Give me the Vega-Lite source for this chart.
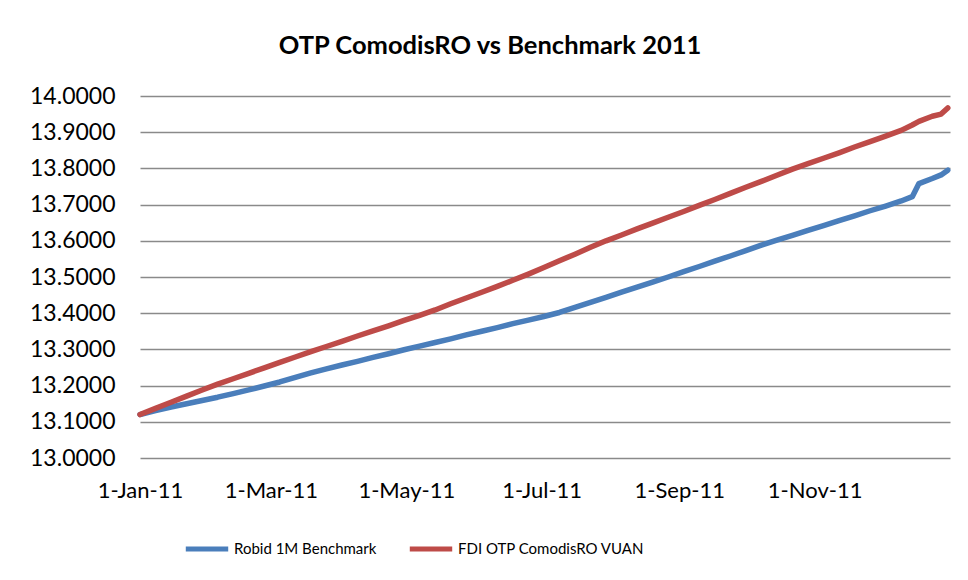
{
  "$schema": "https://vega.github.io/schema/vega-lite/v6.json",
  "width": 810,
  "height": 362,
  "autosize": "none",
  "padding": {"left": 140, "top": 96, "right": 18, "bottom": 122},
  "background": "white",
  "title": {
    "text": "OTP ComodisRO vs Benchmark 2011",
    "font": "Lato",
    "fontSize": 25.5,
    "fontWeight": "bold",
    "color": "#000000",
    "anchor": "middle",
    "frame": "bounds",
    "offset": 26
  },
  "data": {
    "values": [
      {"date": "2011-01-01T00:00:00", "Robid 1M Benchmark": 13.120, "FDI OTP ComodisRO VUAN": 13.120},
      {"date": "2011-01-08T00:00:00", "Robid 1M Benchmark": 13.131, "FDI OTP ComodisRO VUAN": 13.137},
      {"date": "2011-01-15T00:00:00", "Robid 1M Benchmark": 13.141, "FDI OTP ComodisRO VUAN": 13.154},
      {"date": "2011-01-22T00:00:00", "Robid 1M Benchmark": 13.150, "FDI OTP ComodisRO VUAN": 13.171},
      {"date": "2011-01-29T00:00:00", "Robid 1M Benchmark": 13.159, "FDI OTP ComodisRO VUAN": 13.188},
      {"date": "2011-02-05T00:00:00", "Robid 1M Benchmark": 13.168, "FDI OTP ComodisRO VUAN": 13.204},
      {"date": "2011-02-12T00:00:00", "Robid 1M Benchmark": 13.178, "FDI OTP ComodisRO VUAN": 13.219},
      {"date": "2011-02-19T00:00:00", "Robid 1M Benchmark": 13.188, "FDI OTP ComodisRO VUAN": 13.234},
      {"date": "2011-02-26T00:00:00", "Robid 1M Benchmark": 13.199, "FDI OTP ComodisRO VUAN": 13.249},
      {"date": "2011-03-05T00:00:00", "Robid 1M Benchmark": 13.210, "FDI OTP ComodisRO VUAN": 13.264},
      {"date": "2011-03-12T00:00:00", "Robid 1M Benchmark": 13.223, "FDI OTP ComodisRO VUAN": 13.279},
      {"date": "2011-03-19T00:00:00", "Robid 1M Benchmark": 13.235, "FDI OTP ComodisRO VUAN": 13.294},
      {"date": "2011-03-26T00:00:00", "Robid 1M Benchmark": 13.246, "FDI OTP ComodisRO VUAN": 13.308},
      {"date": "2011-04-02T00:00:00", "Robid 1M Benchmark": 13.257, "FDI OTP ComodisRO VUAN": 13.322},
      {"date": "2011-04-09T00:00:00", "Robid 1M Benchmark": 13.267, "FDI OTP ComodisRO VUAN": 13.337},
      {"date": "2011-04-16T00:00:00", "Robid 1M Benchmark": 13.278, "FDI OTP ComodisRO VUAN": 13.351},
      {"date": "2011-04-23T00:00:00", "Robid 1M Benchmark": 13.288, "FDI OTP ComodisRO VUAN": 13.365},
      {"date": "2011-04-30T00:00:00", "Robid 1M Benchmark": 13.299, "FDI OTP ComodisRO VUAN": 13.380},
      {"date": "2011-05-07T00:00:00", "Robid 1M Benchmark": 13.309, "FDI OTP ComodisRO VUAN": 13.394},
      {"date": "2011-05-14T00:00:00", "Robid 1M Benchmark": 13.319, "FDI OTP ComodisRO VUAN": 13.409},
      {"date": "2011-05-21T00:00:00", "Robid 1M Benchmark": 13.329, "FDI OTP ComodisRO VUAN": 13.426},
      {"date": "2011-05-28T00:00:00", "Robid 1M Benchmark": 13.340, "FDI OTP ComodisRO VUAN": 13.442},
      {"date": "2011-06-04T00:00:00", "Robid 1M Benchmark": 13.350, "FDI OTP ComodisRO VUAN": 13.458},
      {"date": "2011-06-11T00:00:00", "Robid 1M Benchmark": 13.360, "FDI OTP ComodisRO VUAN": 13.474},
      {"date": "2011-06-18T00:00:00", "Robid 1M Benchmark": 13.371, "FDI OTP ComodisRO VUAN": 13.491},
      {"date": "2011-06-25T00:00:00", "Robid 1M Benchmark": 13.381, "FDI OTP ComodisRO VUAN": 13.508},
      {"date": "2011-07-02T00:00:00", "Robid 1M Benchmark": 13.391, "FDI OTP ComodisRO VUAN": 13.526},
      {"date": "2011-07-09T00:00:00", "Robid 1M Benchmark": 13.402, "FDI OTP ComodisRO VUAN": 13.545},
      {"date": "2011-07-16T00:00:00", "Robid 1M Benchmark": 13.416, "FDI OTP ComodisRO VUAN": 13.563},
      {"date": "2011-07-23T00:00:00", "Robid 1M Benchmark": 13.430, "FDI OTP ComodisRO VUAN": 13.582},
      {"date": "2011-07-30T00:00:00", "Robid 1M Benchmark": 13.444, "FDI OTP ComodisRO VUAN": 13.600},
      {"date": "2011-08-06T00:00:00", "Robid 1M Benchmark": 13.458, "FDI OTP ComodisRO VUAN": 13.616},
      {"date": "2011-08-13T00:00:00", "Robid 1M Benchmark": 13.472, "FDI OTP ComodisRO VUAN": 13.633},
      {"date": "2011-08-20T00:00:00", "Robid 1M Benchmark": 13.486, "FDI OTP ComodisRO VUAN": 13.649},
      {"date": "2011-08-27T00:00:00", "Robid 1M Benchmark": 13.500, "FDI OTP ComodisRO VUAN": 13.665},
      {"date": "2011-09-03T00:00:00", "Robid 1M Benchmark": 13.515, "FDI OTP ComodisRO VUAN": 13.681},
      {"date": "2011-09-10T00:00:00", "Robid 1M Benchmark": 13.529, "FDI OTP ComodisRO VUAN": 13.698},
      {"date": "2011-09-17T00:00:00", "Robid 1M Benchmark": 13.544, "FDI OTP ComodisRO VUAN": 13.714},
      {"date": "2011-09-24T00:00:00", "Robid 1M Benchmark": 13.558, "FDI OTP ComodisRO VUAN": 13.731},
      {"date": "2011-10-01T00:00:00", "Robid 1M Benchmark": 13.573, "FDI OTP ComodisRO VUAN": 13.748},
      {"date": "2011-10-08T00:00:00", "Robid 1M Benchmark": 13.588, "FDI OTP ComodisRO VUAN": 13.764},
      {"date": "2011-10-15T00:00:00", "Robid 1M Benchmark": 13.602, "FDI OTP ComodisRO VUAN": 13.781},
      {"date": "2011-10-22T00:00:00", "Robid 1M Benchmark": 13.615, "FDI OTP ComodisRO VUAN": 13.798},
      {"date": "2011-10-29T00:00:00", "Robid 1M Benchmark": 13.629, "FDI OTP ComodisRO VUAN": 13.813},
      {"date": "2011-11-05T00:00:00", "Robid 1M Benchmark": 13.642, "FDI OTP ComodisRO VUAN": 13.828},
      {"date": "2011-11-12T00:00:00", "Robid 1M Benchmark": 13.656, "FDI OTP ComodisRO VUAN": 13.843},
      {"date": "2011-11-19T00:00:00", "Robid 1M Benchmark": 13.669, "FDI OTP ComodisRO VUAN": 13.859},
      {"date": "2011-11-26T00:00:00", "Robid 1M Benchmark": 13.683, "FDI OTP ComodisRO VUAN": 13.874},
      {"date": "2011-12-03T00:00:00", "Robid 1M Benchmark": 13.696, "FDI OTP ComodisRO VUAN": 13.889},
      {"date": "2011-12-10T00:00:00", "Robid 1M Benchmark": 13.710, "FDI OTP ComodisRO VUAN": 13.905},
      {"date": "2011-12-15T00:00:00", "Robid 1M Benchmark": 13.722, "FDI OTP ComodisRO VUAN": 13.920},
      {"date": "2011-12-18T00:00:00", "Robid 1M Benchmark": 13.758, "FDI OTP ComodisRO VUAN": 13.930},
      {"date": "2011-12-24T00:00:00", "Robid 1M Benchmark": 13.772, "FDI OTP ComodisRO VUAN": 13.944},
      {"date": "2011-12-28T00:00:00", "Robid 1M Benchmark": 13.782, "FDI OTP ComodisRO VUAN": 13.950},
      {"date": "2011-12-31T00:00:00", "Robid 1M Benchmark": 13.795, "FDI OTP ComodisRO VUAN": 13.967}
    ]
  },
  "transform": [
    {"fold": ["Robid 1M Benchmark", "FDI OTP ComodisRO VUAN"], "as": ["series", "value"]}
  ],
  "mark": {"type": "line", "strokeWidth": 5.5, "strokeCap": "round", "strokeJoin": "round", "clip": false},
  "encoding": {
    "x": {
      "field": "date",
      "type": "temporal",
      "title": null,
      "scale": {"domain": [{"year": 2011, "month": 1, "date": 1}, {"year": 2012, "month": 1, "date": 1}]},
      "axis": {
        "values": [
          {"year": 2011, "month": 1, "date": 1},
          {"year": 2011, "month": 3, "date": 1},
          {"year": 2011, "month": 5, "date": 1},
          {"year": 2011, "month": 7, "date": 1},
          {"year": 2011, "month": 9, "date": 1},
          {"year": 2011, "month": 11, "date": 1}
        ],
        "format": "%-d-%b-%y",
        "grid": false,
        "domain": false,
        "ticks": false,
        "labelFont": "Lato",
        "labelFontSize": 22,
        "labelColor": "#000000",
        "labelPadding": 22,
        "labelFlush": false,
        "labelOverlap": false
      }
    },
    "y": {
      "field": "value",
      "type": "quantitative",
      "title": null,
      "scale": {"domain": [13, 14], "zero": false, "nice": false},
      "axis": {
        "values": [13, 13.1, 13.2, 13.3, 13.4, 13.5, 13.6, 13.7, 13.8, 13.9, 14],
        "format": ".4f",
        "grid": true,
        "gridColor": "#8a8a8a",
        "gridWidth": 1.5,
        "domain": false,
        "ticks": false,
        "labelFont": "Lato",
        "labelFontSize": 23,
        "labelColor": "#000000",
        "labelPadding": 25
      }
    },
    "color": {
      "field": "series",
      "type": "nominal",
      "sort": ["Robid 1M Benchmark", "FDI OTP ComodisRO VUAN"],
      "scale": {"domain": ["Robid 1M Benchmark", "FDI OTP ComodisRO VUAN"], "range": ["#4A7EBB", "#BE4B48"]},
      "legend": {
        "title": null,
        "orient": "none",
        "direction": "horizontal",
        "legendX": 43,
        "legendY": 429,
        "symbolType": "stroke",
        "symbolSize": 1800,
        "symbolStrokeWidth": 5,
        "labelFont": "Lato",
        "labelFontSize": 15,
        "labelColor": "#000000",
        "labelOffset": 3,
        "labelLimit": 400,
        "columnPadding": 22
      }
    }
  },
  "config": {
    "view": {"stroke": null}
  }
}
